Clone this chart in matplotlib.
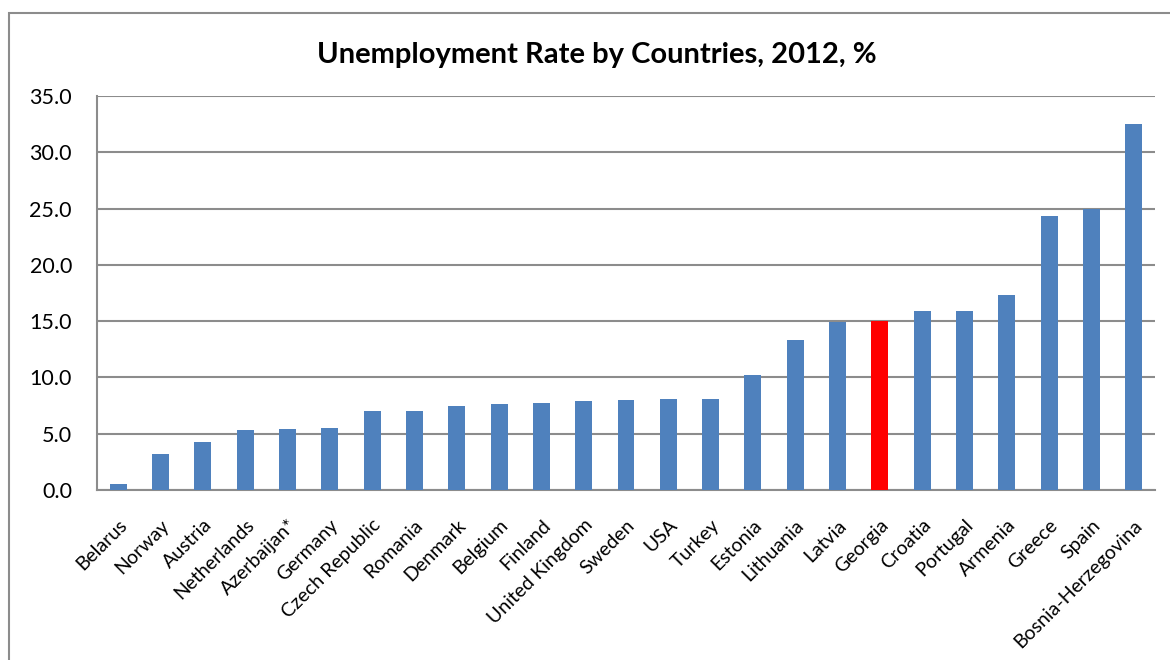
import matplotlib
matplotlib.use('Agg')
from matplotlib import pyplot as plt
from matplotlib.patches import Rectangle

countries = ['Belarus', 'Norway', 'Austria', 'Netherlands', 'Azerbaijan*', 'Germany',
             'Czech Republic', 'Romania', 'Denmark', 'Belgium', 'Finland', 'United Kingdom',
             'Sweden', 'USA', 'Turkey', 'Estonia', 'Lithuania', 'Latvia', 'Georgia',
             'Croatia', 'Portugal', 'Armenia', 'Greece', 'Spain', 'Bosnia-Herzegovina']
rates = [0.5, 3.2, 4.3, 5.3, 5.4, 5.5, 7.0, 7.0, 7.5, 7.6, 7.7, 7.9, 8.0, 8.1, 8.1,
         10.2, 13.3, 14.9, 15.0, 15.9, 15.9, 17.3, 24.3, 25.0, 32.5]
highlight = 'Georgia'
yticks = [0, 5, 10, 15, 20, 25, 30, 35]

plt.rcParams['font.family'] = ['Lato', 'DejaVu Sans']

fig = plt.figure(figsize=(11.7, 6.6), dpi=100)
ax = fig.add_axes([97/1170, 1-490/660, (1155-97)/1170, (490-96)/660])

# outer chart frame like the spreadsheet export
fig.patches.append(Rectangle((9/1170, -0.1), 1.1, 1.1-13/660, transform=fig.transFigure,
                             fill=False, edgecolor='#8c8c8c', linewidth=1.5, zorder=0))

colors = ['#ff0000' if c == highlight else '#4f81bd' for c in countries]
x = range(len(countries))
ax.bar(x, rates, width=0.4, color=colors, zorder=3)

ax.set_xlim(-0.5, len(countries)-0.5)
ax.set_ylim(0, 35)
ax.set_yticks(yticks)
ax.set_yticklabels(['%.1f' % v for v in yticks], fontsize=15.5)
ax.yaxis.grid(True, color='#8c8c8c', linewidth=1.5, zorder=0)
ax.tick_params(axis='y', length=0, pad=18)
ax.tick_params(axis='x', length=0, pad=19)
ax.set_xticks(list(x))
ax.set_xticklabels(countries, rotation=45, ha='right', va='top', rotation_mode='anchor', fontsize=14)

for s in ['top', 'right']:
    ax.spines[s].set_visible(False)
for s in ['left', 'bottom']:
    ax.spines[s].set_color('#8c8c8c')
    ax.spines[s].set_linewidth(1.5)

fig.text(597/1170, 1-55/660, 'Unemployment Rate by Countries, 2012, %', ha='center', va='center',
         fontsize=21, fontweight='bold')

plt.savefig('out.png', dpi=100)
